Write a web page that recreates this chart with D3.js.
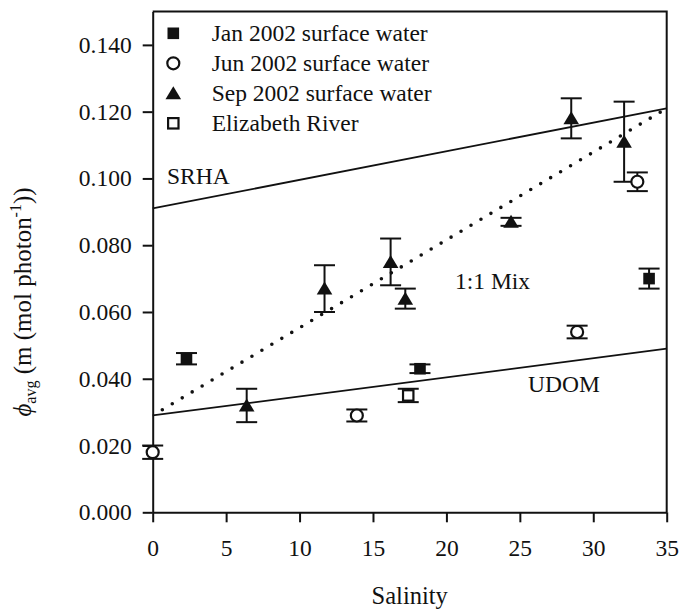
<!DOCTYPE html>
<html>
<head>
<meta charset="utf-8">
<script src="https://cdn.jsdelivr.net/npm/d3@7/dist/d3.min.js"></script>
<style>
  html, body { margin: 0; padding: 0; background: #fff; }
  svg { display: block; }
</style>
</head>
<body>
<svg id="chart" width="682" height="613"></svg>
<script>
// Quantum yield (phi_avg) versus salinity, by sampling campaign
const janSalinity = [2.3, 18.2, 33.8];
const janPhi      = [0.046, 0.043, 0.070];
const janErr      = [0.0017, 0.0013, 0.003];

const junSalinity = [0.0, 13.9, 28.9, 33.0];
const junPhi      = [0.018, 0.029, 0.054, 0.099];
const junErr      = [0.002, 0.0018, 0.0019, 0.0028];

const sepSalinity = [6.4, 11.7, 16.2, 17.2, 24.4, 28.5, 32.1];
const sepPhi      = [0.032, 0.067, 0.075, 0.064, 0.087, 0.118, 0.111];
const sepErr      = [0.005, 0.007, 0.007, 0.003, 0.0012, 0.006, 0.012];

const elizSalinity = [17.4];
const elizPhi      = [0.035];
const elizErr      = [0.002];

// Reference lines: end-member yields at salinity 0 and 35
const lineSalinity = [0, 35];
const srhaLine     = [0.091, 0.121];
const udomLine     = [0.029, 0.049];
const mixLine      = [0.029, 0.121];

const xTicks = [0, 5, 10, 15, 20, 25, 30, 35];
const yTicks = [0, 0.02, 0.04, 0.06, 0.08, 0.10, 0.12, 0.14];

const legendLabels = ["Jan 2002 surface water", "Jun 2002 surface water",
                      "Sep 2002 surface water", "Elizabeth River"];

const SERIF = '"Liberation Serif", "Times New Roman", serif';
const FONT = 23.5;
const INK = "#111";

const svg = d3.select("#chart");

const x = d3.scaleLinear().domain([0, 35]).range([152.7, 666.7]);
const y = d3.scaleLinear().domain([0, 0.15]).range([512.3, 11.5]);

function label(sel, size) {
  return sel.style("font-family", SERIF).style("font-size", size + "px").style("fill", INK);
}

// frame (top & right)
svg.append("path")
  .attr("d", `M${x(0)},${y(0.15)}H${x(35)}V${y(0)}`)
  .attr("fill", "none").attr("stroke", INK).attr("stroke-width", 2);

// axes
const xAxis = svg.append("g")
  .attr("transform", `translate(0,${y(0)})`)
  .call(d3.axisBottom(x).tickValues(xTicks).tickFormat(d3.format("d"))
        .tickSize(10).tickSizeOuter(0).tickPadding(17));
const yAxis = svg.append("g")
  .attr("transform", `translate(${x(0)},0)`)
  .call(d3.axisLeft(y).tickValues(yTicks).tickFormat(d3.format(".3f"))
        .tickSize(10).tickSizeOuter(0).tickPadding(11));
[xAxis, yAxis].forEach(g => {
  g.attr("font-family", null).attr("font-size", null);
  g.selectAll("path.domain").attr("stroke", INK).attr("stroke-width", 2);
  g.selectAll(".tick line").attr("stroke", INK).attr("stroke-width", 2);
  label(g.selectAll(".tick text"), FONT);
});

// reference lines
const lineGen = d3.line().x(d => x(d[0])).y(d => y(d[1]));
const pairs = vals => lineSalinity.map((s, i) => [s, vals[i]]);
svg.append("path").attr("d", lineGen(pairs(srhaLine)))
  .attr("fill", "none").attr("stroke", INK).attr("stroke-width", 1.8);
svg.append("path").attr("d", lineGen(pairs(udomLine)))
  .attr("fill", "none").attr("stroke", INK).attr("stroke-width", 1.8);
svg.append("path").attr("d", lineGen(pairs(mixLine)))
  .attr("fill", "none").attr("stroke", INK).attr("stroke-width", 3.6)
  .attr("stroke-linecap", "round").attr("stroke-dasharray", "0 11.6")
  .attr("stroke-dashoffset", -11.2);

// line labels
label(svg.append("text").attr("x", 167).attr("y", 183.5), FONT).text("SRHA");
label(svg.append("text").attr("x", 455).attr("y", 288.5), FONT).text("1:1 Mix");
label(svg.append("text").attr("x", 528).attr("y", 392), FONT).text("UDOM");

// marker shapes
function drawMarker(g, type, cx, cy) {
  if (type === "filledSquare") {
    g.append("rect").attr("x", cx - 5.8).attr("y", cy - 5.8).attr("width", 11.6).attr("height", 11.6)
      .attr("fill", INK);
  } else if (type === "openCircle") {
    g.append("circle").attr("cx", cx).attr("cy", cy).attr("r", 6)
      .attr("fill", "#fff").attr("stroke", INK).attr("stroke-width", 2.2);
  } else if (type === "triangle") {
    g.append("path").attr("d", `M${cx},${cy - 7}L${cx + 7.8},${cy + 6}L${cx - 7.8},${cy + 6}Z`)
      .attr("fill", INK);
  } else if (type === "openSquare") {
    g.append("rect").attr("x", cx - 5.2).attr("y", cy - 5.2).attr("width", 10.4).attr("height", 10.4)
      .attr("fill", "#fff").attr("stroke", INK).attr("stroke-width", 2.2);
  }
}

const series = [
  { type: "filledSquare", sal: janSalinity, phi: janPhi, err: janErr },
  { type: "openCircle",   sal: junSalinity, phi: junPhi, err: junErr },
  { type: "triangle",     sal: sepSalinity, phi: sepPhi, err: sepErr },
  { type: "openSquare",   sal: elizSalinity, phi: elizPhi, err: elizErr }
];

// error bars first, markers on top
const errG = svg.append("g").attr("stroke", INK).attr("stroke-width", 2).attr("fill", "none");
series.forEach(s => {
  s.sal.forEach((sv, i) => {
    const cx = x(sv), top = y(s.phi[i] + s.err[i]), bot = y(s.phi[i] - s.err[i]);
    errG.append("line").attr("x1", cx).attr("x2", cx).attr("y1", top).attr("y2", bot);
    errG.append("line").attr("x1", cx - 10.5).attr("x2", cx + 10.5).attr("y1", top).attr("y2", top);
    errG.append("line").attr("x1", cx - 10.5).attr("x2", cx + 10.5).attr("y1", bot).attr("y2", bot);
  });
});
const markG = svg.append("g");
series.forEach(s => {
  s.sal.forEach((sv, i) => drawMarker(markG, s.type, x(sv), y(s.phi[i])));
});

// legend
const legG = svg.append("g");
legendLabels.forEach((lab, i) => {
  const cy = 33.3 + i * 30;
  drawMarker(legG, series[i].type, 173.3, cy);
  label(legG.append("text").attr("x", 211.7).attr("y", cy + 7.5), FONT).text(lab);
});

// axis titles
label(svg.append("text").attr("x", (x(0) + x(35)) / 2).attr("y", 604)
  .attr("text-anchor", "middle"), 24.5).text("Salinity");

const yt = label(svg.append("text")
  .attr("transform", "translate(31,302) rotate(-90)")
  .attr("text-anchor", "middle"), 25);
yt.append("tspan").style("font-style", "italic").text("\u03D5");
yt.append("tspan").style("font-size", "16px").attr("dy", 5).text("avg");
yt.append("tspan").attr("dy", -5).text(" (m (mol photon");
yt.append("tspan").style("font-size", "16px").attr("dy", -10).text("-1");
yt.append("tspan").attr("dy", 10).text("))");
</script>
</body>
</html>
